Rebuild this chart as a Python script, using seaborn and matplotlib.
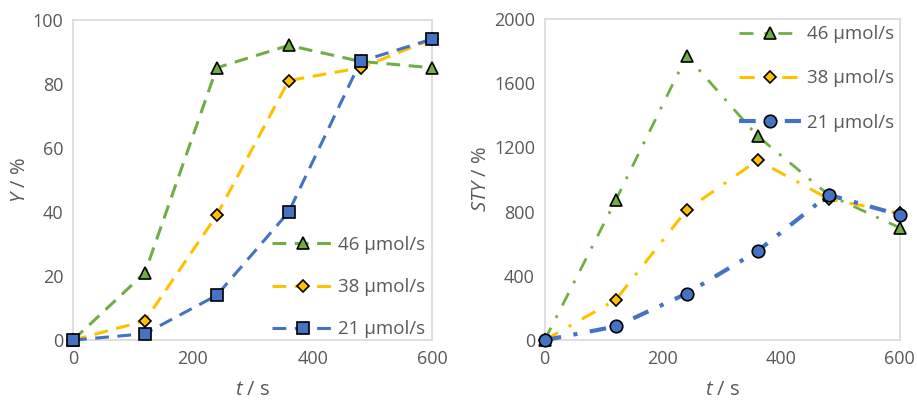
import seaborn as sns
import matplotlib.pyplot as plt
from matplotlib.ticker import MultipleLocator

# time points (s)
t = [0, 120, 240, 360, 480, 600]

# yield Y / %
y_46 = [0, 21, 85, 92, 87, 85]
y_38 = [0, 6, 39, 81, 85, 94]
y_21 = [0, 2, 14, 40, 87, 94]

# space-time yield STY / %
sty_46 = [0, 870, 1770, 1270, 905, 700]
sty_38 = [0, 250, 810, 1120, 880, 790]
sty_21 = [0, 85, 290, 555, 905, 780]

labels = ["46 µmol/s", "38 µmol/s", "21 µmol/s"]
colors = ["#70AD47", "#FFC000", "#4472C4"]

sns.set_style("white")
plt.rcParams["font.family"] = ["Open Sans", "DejaVu Sans"]
plt.rcParams["mathtext.fontset"] = "custom"
plt.rcParams["mathtext.it"] = "Open Sans:italic"
plt.rcParams["mathtext.rm"] = "Open Sans"

grey = "#595959"
spine = "#d9d9d9"

fig = plt.figure(figsize=(9.17, 4.03), dpi=100)
ax1 = fig.add_axes([0.0796, 0.156, 0.392, 0.795])
ax2 = fig.add_axes([0.594, 0.156, 0.387, 0.797])


def style_axis(ax, ymax, ymajor, yminor, ylabel):
    ax.set_xlim(0, 600)
    ax.set_ylim(0, ymax)
    ax.xaxis.set_major_locator(MultipleLocator(200))
    ax.xaxis.set_minor_locator(MultipleLocator(40))
    ax.yaxis.set_major_locator(MultipleLocator(ymajor))
    ax.yaxis.set_minor_locator(MultipleLocator(yminor))
    ax.tick_params(which="both", direction="in", color="#a6a6a6", length=5,
                   width=0.8, labelcolor=grey, labelsize=13, pad=7)
    for s in ax.spines.values():
        s.set_color(spine)
        s.set_linewidth(1.2)
    ax.set_xlabel(r"$\it{t}$ / s", color=grey, fontsize=14.5, labelpad=9)
    ax.set_ylabel(ylabel, color=grey, fontsize=14.5, labelpad=2)


# left panel: yield
left_series = [(y_46, "^", 8.5), (y_38, "D", 6.5), (y_21, "s", 8.5)]
for (vals, mk, ms), lab, c in zip(left_series, labels, colors):
    sns.lineplot(x=t, y=vals, ax=ax1, color=c, marker=mk, markersize=ms,
                 markeredgecolor="black", markeredgewidth=1.2,
                 linestyle=(0, (4.5, 2.8)), linewidth=2.2, label=lab,
                 clip_on=False, zorder=3)
style_axis(ax1, 100, 20, 5, r"$\it{Y}$ / %")
ax1.legend(loc="lower right", bbox_to_anchor=(1.01, -0.03), frameon=False,
           fontsize=13.5, labelcolor=grey, handlelength=3.3, handletextpad=0.2,
           labelspacing=1.3, borderaxespad=0.2, numpoints=1)

# right panel: space-time yield
right_series = [(sty_46, "^", 8.5, (0, (5, 4, 1, 4)), 2.0),
                (sty_38, "D", 6.5, (0, (5, 4, 1, 4)), 2.2),
                (sty_21, "o", 9.0, (0, (4, 3, 1, 3)), 3.0)]
for (vals, mk, ms, ls, lw), lab, c in zip(right_series, labels, colors):
    sns.lineplot(x=t, y=vals, ax=ax2, color=c, marker=mk, markersize=ms,
                 markeredgecolor="black", markeredgewidth=1.2,
                 linestyle=ls, linewidth=lw, label=lab,
                 clip_on=False, zorder=3)
style_axis(ax2, 2000, 400, 100, r"$\it{STY}$ / %")
ax2.legend(loc="upper right", bbox_to_anchor=(1.01, 1.01), frameon=False,
           fontsize=13.5, labelcolor=grey, handlelength=3.3, handletextpad=0.3,
           labelspacing=1.4, borderaxespad=0.1, numpoints=1)

fig.savefig("out.png", dpi=100)
